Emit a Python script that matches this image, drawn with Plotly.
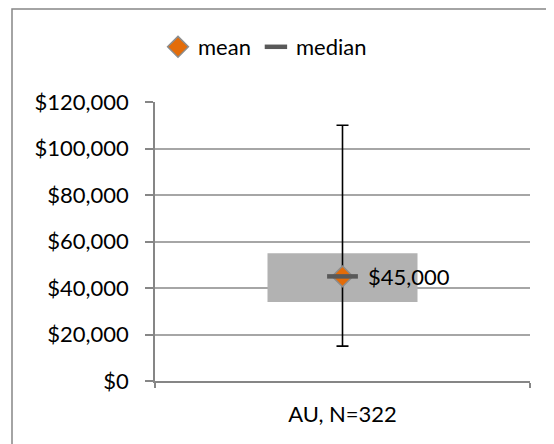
import plotly.graph_objects as go

categories = ["AU, N=322"]
q1 = [34000]
q3 = [55000]
whisker_low = [15000]
whisker_high = [110000]
mean_vals = [45000]
median_vals = [45000]
label_text = ["$45,000"]
y_ticks = [0, 20000, 40000, 60000, 80000, 100000, 120000]
y_tick_text = ["$0", "$20,000", "$40,000", "$60,000", "$80,000", "$100,000", "$120,000"]

FONT = "Lato"
FS = 22
GRID = "#A6A6A6"
AXIS = "#868686"

# plot area in screen pixels (page has 8px body offset)
PL, PR, PT, PB = 155, 530, 102, 381
OFF = 8
PW, PH = PR - PL, PB - PT

fig = go.Figure()

fig.add_trace(go.Bar(
    x=categories, y=[b - a for a, b in zip(q1, q3)], base=q1,
    width=0.4, marker=dict(color="#B2B2B2", line=dict(width=0)),
    showlegend=False, hoverinfo="skip"))

fig.add_trace(go.Scatter(
    x=categories, y=median_vals, mode="markers",
    marker=dict(size=1, color="rgba(0,0,0,0)"),
    error_y=dict(type="data", symmetric=False,
                 array=[h - m for h, m in zip(whisker_high, median_vals)],
                 arrayminus=[m - l for l, m in zip(whisker_low, median_vals)],
                 color="black", thickness=1.6, width=6),
    showlegend=False, hoverinfo="skip"))

fig.add_trace(go.Scatter(
    x=categories, y=mean_vals, mode="markers", name="mean",
    marker=dict(symbol="diamond", size=16, color="#E36C09",
                line=dict(color="#8C8C8C", width=1.5))))

fig.add_trace(go.Scatter(
    x=categories, y=median_vals, mode="markers", name="median",
    marker=dict(symbol="line-ew", size=22,
                line=dict(color="#595959", width=4.5))))

fig.add_annotation(x=categories[0], y=median_vals[0], text=label_text[0],
                   showarrow=False, xanchor="left", yanchor="middle",
                   xshift=23, font=dict(family=FONT, size=FS, color="black"))

fig.add_shape(type="rect", xref="paper", yref="paper",
              x0=(12 - PL) / PW, x1=(600 - PL) / PW,
              y0=(PB - 480) / PH, y1=(PB - 9) / PH,
              line=dict(color=AXIS, width=1.5), fillcolor="rgba(0,0,0,0)",
              layer="below")

fig.update_layout(
    width=554, height=444,
    margin=dict(l=PL - OFF, r=554 - PR + OFF, t=PT - OFF, b=444 - PB + OFF),
    paper_bgcolor="white", plot_bgcolor="white",
    font=dict(family=FONT, size=FS, color="black"),
    bargap=0.6,
    legend=dict(orientation="h", x=(158 - PL) / PW, y=(PB - 47) / PH,
                xanchor="left", yanchor="middle",
                font=dict(family=FONT, size=FS), itemwidth=30,
                bgcolor="rgba(0,0,0,0)"),
    xaxis=dict(type="category", showgrid=False, showline=True,
               linecolor=AXIS, linewidth=1.5, ticks="outside",
               tickson="boundaries", ticklen=5, tickcolor=AXIS,
               tickwidth=1.5, ticklabelstandoff=13),
    yaxis=dict(range=[0, 120000], tickvals=y_ticks, ticktext=y_tick_text,
               showgrid=True, gridcolor=GRID, gridwidth=1.5,
               showline=True, linecolor=AXIS, linewidth=1.5,
               ticks="outside", ticklen=8, tickcolor=AXIS, tickwidth=1.5,
               ticklabelstandoff=12, zeroline=False),
)

fig.write_html("out.html")
